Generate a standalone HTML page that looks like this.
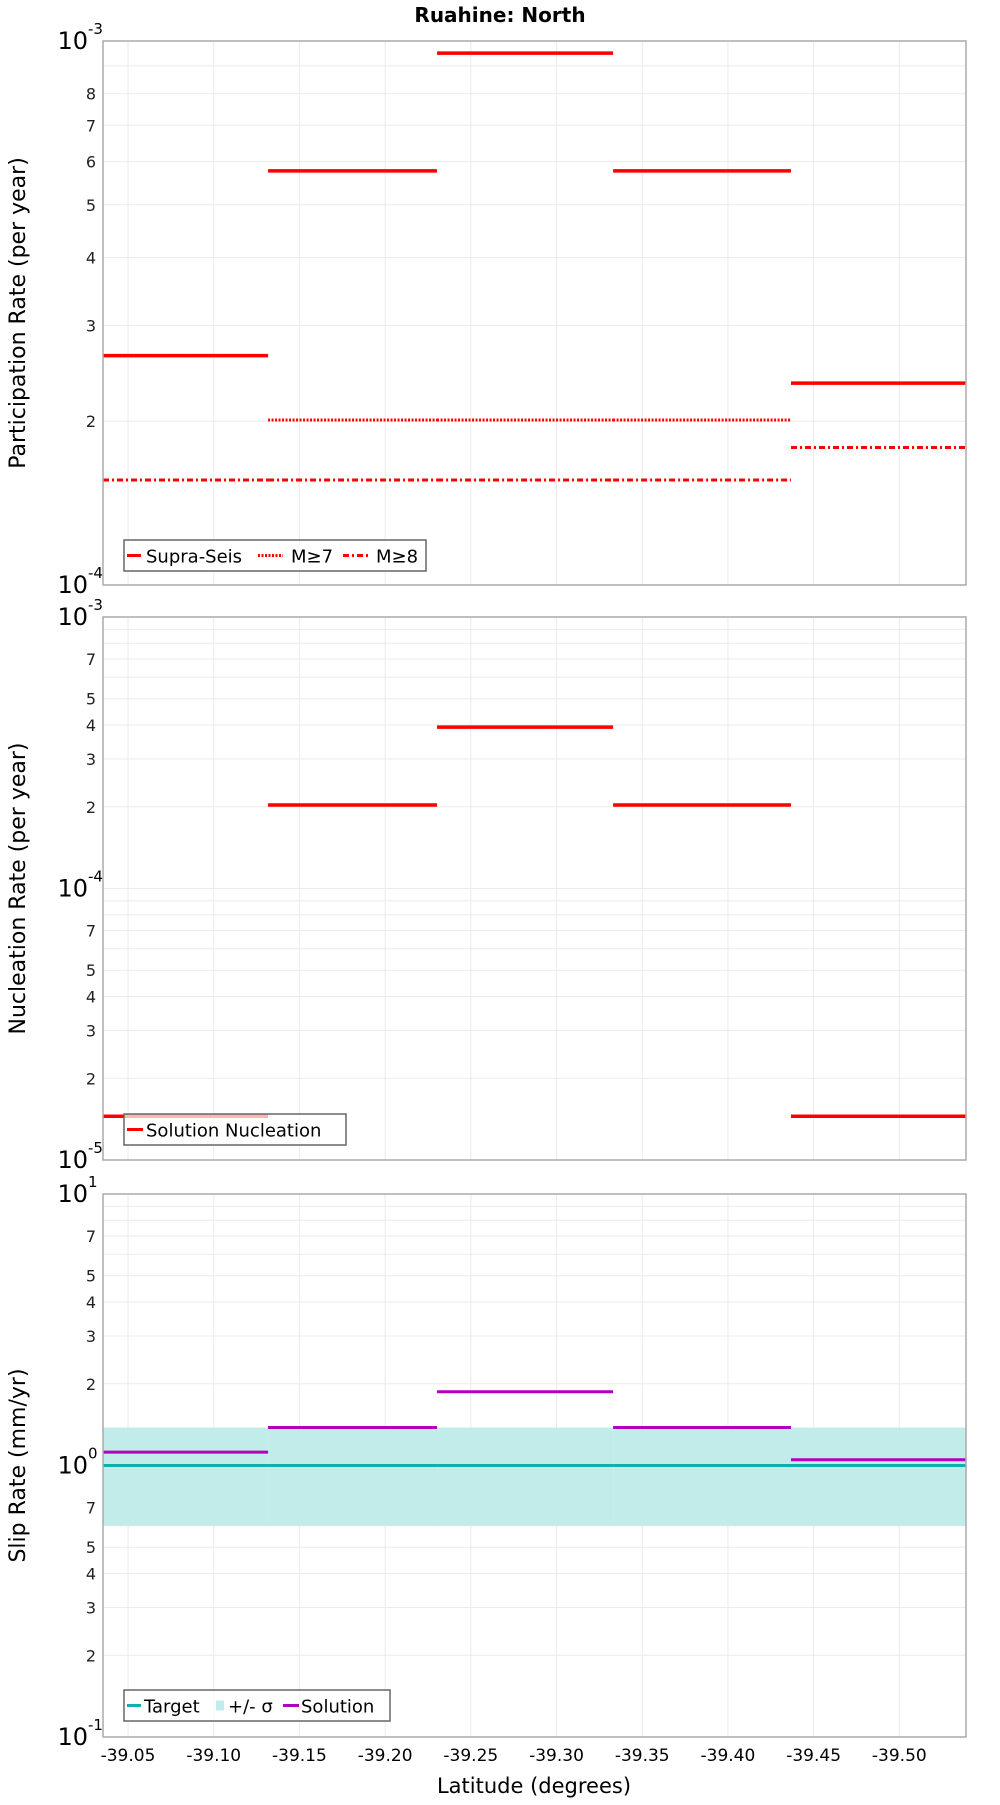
<!DOCTYPE html>
<html><head><meta charset="utf-8"><style>
html,body{margin:0;padding:0;background:#fff;}
svg text{font-family:"DejaVu Sans","Liberation Sans",sans-serif;}
</style></head><body>
<svg id="chart" width="1000" height="1800" xmlns="http://www.w3.org/2000/svg"></svg>
<script>
// ---- data ----
const segStarts = [-39.0354, -39.1317, -39.2303, -39.3330, -39.4368];
const segEnds   = [-39.1317, -39.2303, -39.3330, -39.4368, -39.5389];
const supraSeis = [2.64e-4, 5.77e-4, 9.5e-4, 5.77e-4, 2.35e-4];
const mGe7      = [2.64e-4, 2.01e-4, 2.01e-4, 2.01e-4, 2.35e-4];
const mGe8      = [1.56e-4, 1.56e-4, 1.56e-4, 1.56e-4, 1.79e-4];
const nucleation = [1.45e-5, 2.03e-4, 3.93e-4, 2.03e-4, 1.45e-5];
const slipTarget = [1.0, 1.0, 1.0, 1.0, 1.0];
const slipSigmaHi = [1.38, 1.38, 1.38, 1.38, 1.38];
const slipSigmaLo = [0.6, 0.6, 0.6, 0.6, 0.6];
const slipSolution = [1.12, 1.38, 1.87, 1.38, 1.05];
const xTicks = [-39.05,-39.10,-39.15,-39.20,-39.25,-39.30,-39.35,-39.40,-39.45,-39.50];
const xTickLabels = ["-39.05","-39.10","-39.15","-39.20","-39.25","-39.30","-39.35","-39.40","-39.45","-39.50"];

const NS="http://www.w3.org/2000/svg";
const svg=document.getElementById('chart');
function el(tag,attrs,parent){const e=document.createElementNS(NS,tag);for(const k in attrs)e.setAttribute(k,attrs[k]);(parent||svg).appendChild(e);return e;}
const L=103,R=966;
const xMin=-39.0354,xMax=-39.5389;
function xs(v){return L+(v-xMin)/(xMax-xMin)*(R-L);}

function panel(top,bottom,dMin,dMax,labelsMinor,name,ytitle){
  const g=el('g',{});
  
  
  const ys=v=>bottom-(Math.log10(v)-dMin)/(dMax-dMin)*(bottom-top);
  for(let d=dMin;d<dMax;d++){for(let m=1;m<10;m++){const y=ys(m*Math.pow(10,d));
    const gl=el('line',{x1:L,x2:R,y1:y,y2:y,stroke:'#ebebeb','stroke-width':1},g);
    }}
  xTicks.forEach(t=>{const x=xs(t);const gl=el('line',{x1:x,x2:x,y1:top,y2:bottom,stroke:'#ebebeb','stroke-width':1},g);
    });
  for(let d=dMin;d<=dMax;d++){const y=ys(Math.pow(10,d));
    const t=el('text',{x:88,y:y+8,'font-size':24,'text-anchor':'end',fill:'#000'},g);t.textContent='10';
    
    const s=el('text',{x:88,y:y-7,'font-size':15,fill:'#000'},g);s.textContent=String(d);
    
    if(d<dMax) labelsMinor.forEach(m=>{const yy=ys(m*Math.pow(10,d));
      const tt=el('text',{x:96,y:yy+6,'font-size':16,'text-anchor':'end',fill:'#222'},g);tt.textContent=String(m);
      });
  }
  const yt=el('text',{x:0,y:0,'font-size':22,'text-anchor':'middle',fill:'#000',transform:`translate(25,${(top+bottom)/2}) rotate(-90)`},g);
  yt.textContent=ytitle;
  return {g,ys,top,bottom};
}
function frame(p){const r=el('rect',{x:L,y:p.top,width:R-L,height:p.bottom-p.top,fill:'none',stroke:'#aaa','stroke-width':1.5},p.g);
  }
function segs(p,vals,color,dash,name,w){vals.forEach((v,i)=>{const y=p.ys(v);
  const a={x1:xs(segStarts[i]),x2:xs(segEnds[i]),y1:y,y2:y,stroke:color,'stroke-width':w||3.5};
  if(dash)a['stroke-dasharray']=dash;const l=el('line',a,p.g);
  });}
function legend(p,x,y,w,h,items){const lg=el('g',{},p.g);
  
  el('rect',{x:x,y:y,width:w,height:h,fill:'rgba(255,255,255,0.7)',stroke:'#666','stroke-width':1.5},lg);
  items.forEach(it=>{const e=el('g',{},lg);
    if(it.box){el('rect',{x:it.x,y:y+h/2-5,width:8,height:10,fill:it.color},e);}
    else{const a={x1:it.x,x2:it.x+it.len,y1:y+h/2,y2:y+h/2,stroke:it.color,'stroke-width':3};if(it.dash)a['stroke-dasharray']=it.dash;el('line',a,e);}
    const t=el('text',{x:it.tx,y:y+h/2+7,'font-size':18,fill:'#000'},e);t.textContent=it.label;});
}

const title=el('text',{x:500,y:22,'font-size':20,'font-weight':'bold','text-anchor':'middle',fill:'#000'});
title.textContent='Ruahine: North';

const p1=panel(41,585,-4,-3,[2,3,4,5,6,7,8],'participation-panel','Participation Rate (per year)');
segs(p1,mGe8,'#f00','6,3,2,3','m8-segment',3);
segs(p1,mGe7,'#f00','2,1.5','m7-segment',3);
segs(p1,supraSeis,'#f00',null,'supra-seis-segment',3.5);
frame(p1);
legend(p1,124,540,302,31,[
 {x:127,len:14,color:'#f00',label:'Supra-Seis',tx:146},
 {x:258,len:25,color:'#f00',dash:'2,1.5',label:'M≥7',tx:291},
 {x:343,len:25,color:'#f00',dash:'6,3,2,3',label:'M≥8',tx:376}]);

const p2=panel(617,1160,-5,-3,[2,3,4,5,7],'nucleation-panel','Nucleation Rate (per year)');
segs(p2,nucleation,'#f00',null,'nucleation-segment',3.5);
frame(p2);
legend(p2,124,1114,222,31,[{x:127,len:16,color:'#f00',label:'Solution Nucleation',tx:146}]);

const p3=panel(1194,1737,-1,1,[2,3,4,5,7],'slip-rate-panel','Slip Rate (mm/yr)');
slipSigmaHi.forEach((v,i)=>{const y1=p3.ys(v),y2=p3.ys(slipSigmaLo[i]);
  const r=el('rect',{x:xs(segStarts[i]),y:y1,width:xs(segEnds[i])-xs(segStarts[i]),height:y2-y1,fill:'#c2ecea'},p3.g);
  });
segs(p3,slipTarget,'#10b0b0',null,'target-segment',3);
segs(p3,slipSolution,'#b000c0',null,'solution-segment',3);
frame(p3);
legend(p3,124,1690,266,31,[
 {x:127,len:14,color:'#10b0b0',label:'Target',tx:144},
 {box:true,x:216,color:'#c2ecea',label:'+/- σ',tx:228},
 {x:283,len:16,color:'#b000c0',label:'Solution',tx:301}]);

xTicks.forEach((t,i)=>{const tx=el('text',{x:xs(t),y:1761,'font-size':17,'text-anchor':'middle',fill:'#000'});
  tx.textContent=xTickLabels[i];});
const xt=el('text',{x:534,y:1793,'font-size':21,'text-anchor':'middle',fill:'#000'});
xt.textContent='Latitude (degrees)';
</script>
</body></html>
